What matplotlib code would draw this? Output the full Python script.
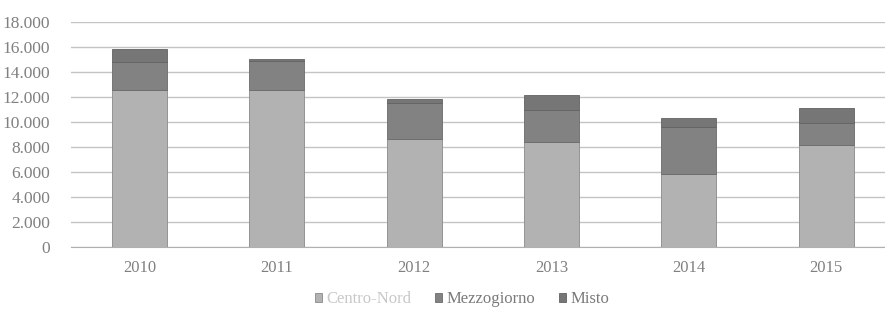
import matplotlib
matplotlib.use("Agg")
import matplotlib.pyplot as plt
import numpy as np

years = ["2010", "2011", "2012", "2013", "2014", "2015"]
centro_nord = [12550, 12550, 8650, 8400, 5850, 8150]
mezzogiorno = [2250, 2350, 2850, 2550, 3700, 1750]
misto = [1000, 100, 300, 1200, 750, 1200]
yticks = [0, 2000, 4000, 6000, 8000, 10000, 12000, 14000, 16000, 18000]
ytick_labels = ["0", "2.000", "4.000", "6.000", "8.000", "10.000", "12.000",
                "14.000", "16.000", "18.000"]
series_names = ["Centro-Nord", "Mezzogiorno", "Misto"]

plt.rcParams['font.family'] = ['Liberation Serif', 'DejaVu Serif']

fig = plt.figure(figsize=(8.85, 3.13), dpi=100)
ax = fig.add_axes([71/885, 1-247/313, 1-71/885, (247-21.7)/313])

x = np.arange(len(years))
w = 0.4
c_cn, c_mz, c_mi = "#b2b2b2", "#828282", "#767676"
b1 = ax.bar(x, centro_nord, w, color=c_cn, edgecolor="#8a8a8a", linewidth=0.6, zorder=3)
b2 = ax.bar(x, mezzogiorno, w, bottom=centro_nord, color=c_mz, edgecolor="#6a6a6a", linewidth=0.6, zorder=3)
bot = np.array(centro_nord) + np.array(mezzogiorno)
b3 = ax.bar(x, misto, w, bottom=bot, color=c_mi, edgecolor="#626262", linewidth=0.6, zorder=3)

ax.set_ylim(0, 18000)
ax.set_xlim(-0.5, -0.5 + 814/137.3)
ax.set_yticks(yticks)
ax.set_yticklabels(ytick_labels)
ax.set_xticks(x)
ax.set_xticklabels(years)
ax.grid(axis='y', color="#c4c4c4", linewidth=1.0, zorder=0)
for s in ["top", "right", "left"]:
    ax.spines[s].set_visible(False)
ax.spines["bottom"].set_color("#b0b0b0")
ax.spines["bottom"].set_linestyle((0, (3, 1)))
ax.tick_params(axis='both', length=0, colors="#808080", labelsize=12.5)
ax.tick_params(axis='x', pad=9, labelsize=12)
ax.tick_params(axis='y', pad=15)

leg = fig.legend([b1, b2, b3], series_names, loc='center', bbox_to_anchor=(462/885, 1-299/313),
                 ncol=3, frameon=False, fontsize=12, handlelength=0.45, handleheight=0.45,
                 handletextpad=0.25, columnspacing=1.4)
for t, c in zip(leg.get_texts(), ["#c8c8c8", "#7a7a7a", "#7a7a7a"]):
    t.set_color(c)

fig.savefig("out.png", dpi=100)
